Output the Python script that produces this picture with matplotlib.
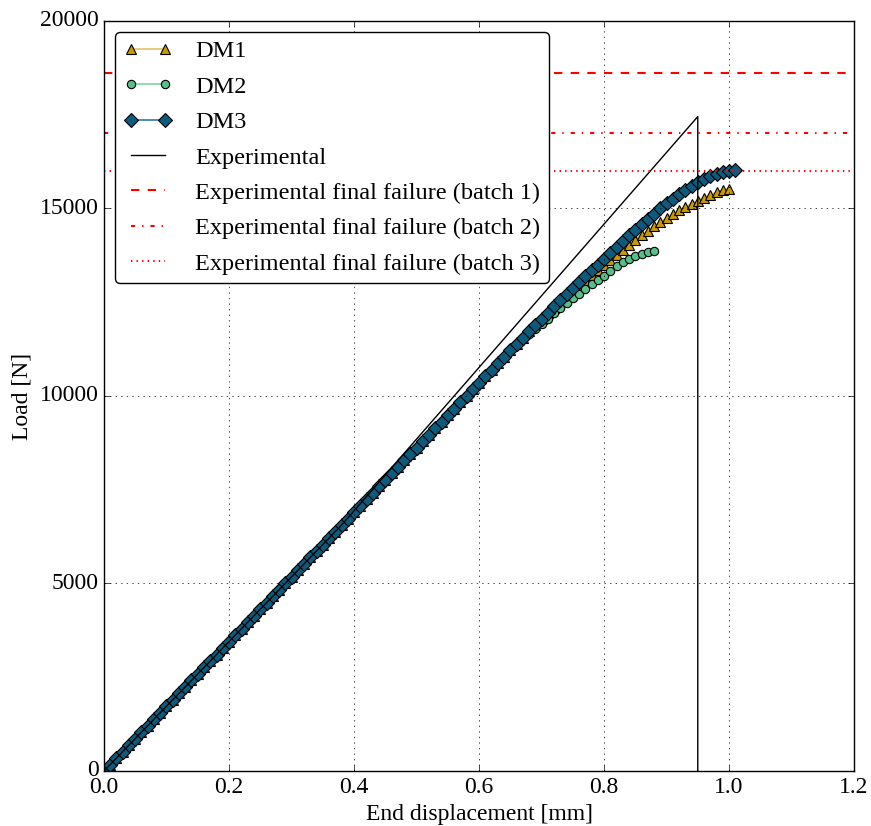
import numpy as np
import matplotlib
matplotlib.use("Agg")
import matplotlib.pyplot as plt

plt.style.use("classic")
plt.rcParams["font.family"] = ["Liberation Serif", "DejaVu Serif"]
plt.rcParams["mathtext.fontset"] = "stix"

# ---------------- data ----------------
disp_step = 0.01  # mm between stored increments

# common linear part (0.00 .. 0.61 mm)
load_common = [0, 173, 345, 518, 690, 863, 1035, 1208, 1380, 1553,
               1725, 1898, 2070, 2243, 2415, 2588, 2760, 2933, 3105, 3278,
               3450, 3623, 3795, 3968, 4140, 4313, 4485, 4658, 4830, 5003,
               5175, 5348, 5520, 5693, 5865, 6038, 6210, 6383, 6555, 6728,
               6900, 7073, 7245, 7418, 7590, 7763, 7935, 8108, 8280, 8453,
               8625, 8798, 8970, 9143, 9315, 9488, 9660, 9833, 10005, 10178,
               10350, 10523]

dm1_tail = [10695, 10868, 11040, 11213, 11385, 11558, 11730, 11895,
            12050, 12205, 12355, 12505, 12655, 12800, 12945, 13085, 13225, 13360,
            13490, 13625, 13760, 13895, 14030, 14160, 14285, 14405, 14520, 14635,
            14745, 14850, 14950, 15040, 15125, 15210, 15290, 15365, 15430, 15485,
            15525]

dm2_tail = [10690, 10860, 11030, 11200, 11360, 11510, 11660, 11795,
            11930, 12065, 12200, 12335, 12470, 12600, 12728, 12855, 12975, 13095,
            13210, 13340, 13465, 13575, 13660, 13730, 13785, 13830, 13865]

dm3_tail = [10695, 10868, 11040, 11213, 11385, 11558, 11730, 11895,
            12060, 12225, 12390, 12555, 12715, 12875, 13035, 13195, 13350, 13500,
            13650, 13810, 13970, 14125, 14280, 14430, 14575, 14720, 14865, 15005,
            15140, 15265, 15385, 15500, 15605, 15700, 15785, 15860, 15925, 15975,
            16005, 16025]

dm1_load = load_common + dm1_tail
dm2_load = load_common + dm2_tail
dm3_load = load_common + dm3_tail

exp_disp = [0.0, 0.38, 0.95, 0.95]
exp_load = [0, 6555, 17450, 0]

failure_batch1 = 18600
failure_batch2 = 17000
failure_batch3 = 16000

labels = ["DM1", "DM2", "DM3", "Experimental",
          "Experimental final failure (batch 1)",
          "Experimental final failure (batch 2)",
          "Experimental final failure (batch 3)"]

# ---------------- plot ----------------
fig = plt.figure(figsize=(8.71, 8.26), dpi=100)
fig.patch.set_facecolor("white")
ax = fig.add_axes([0.1194, 0.0666, 0.8611, 0.908])

def xs(vals):
    return np.arange(len(vals)) * disp_step

ax.plot(xs(dm1_load), dm1_load, "-^", color="#e2c46c", mfc="#c99a00", mec="black",
        mew=0.8, ms=7, lw=1.2, label=labels[0])
ax.plot(xs(dm2_load), dm2_load, "-o", color="#7fd4a6", mfc="#55c08a", mec="black",
        mew=0.8, ms=6, lw=1.2, label=labels[1])
ax.plot(xs(dm3_load), dm3_load, "-D", color="#2a7ea0", mfc="#0d5b7c", mec="black",
        mew=0.8, ms=7, lw=1.2, label=labels[2])
ax.plot(exp_disp, exp_load, "-", color="black", lw=1.0, label=labels[3])
ax.axhline(failure_batch1, color="red", ls="--", lw=1.5, label=labels[4])
ax.axhline(failure_batch2, color="red", ls="-.", lw=1.5, label=labels[5])
ax.axhline(failure_batch3, color="red", ls=":", lw=1.5, label=labels[6])

ax.set_xlim(0, 1.2)
ax.set_ylim(0, 20000)
ax.set_xticks([0.0, 0.2, 0.4, 0.6, 0.8, 1.0, 1.2])
ax.set_yticks([0, 5000, 10000, 15000, 20000])
ax.grid(True)
ax.tick_params(labelsize=17)
ax.set_xlabel("End displacement [mm]", fontsize=17)
ax.set_ylabel("Load [N]", fontsize=17)

leg = ax.legend(loc="upper left", fontsize=17.5, numpoints=2, fancybox=True,
                borderaxespad=0.45, handlelength=2.0, borderpad=0.35,
                labelspacing=0.55, handletextpad=0.95)
leg.get_frame().set_linewidth(1.0)

fig.savefig("out.png", dpi=100, facecolor="white")
